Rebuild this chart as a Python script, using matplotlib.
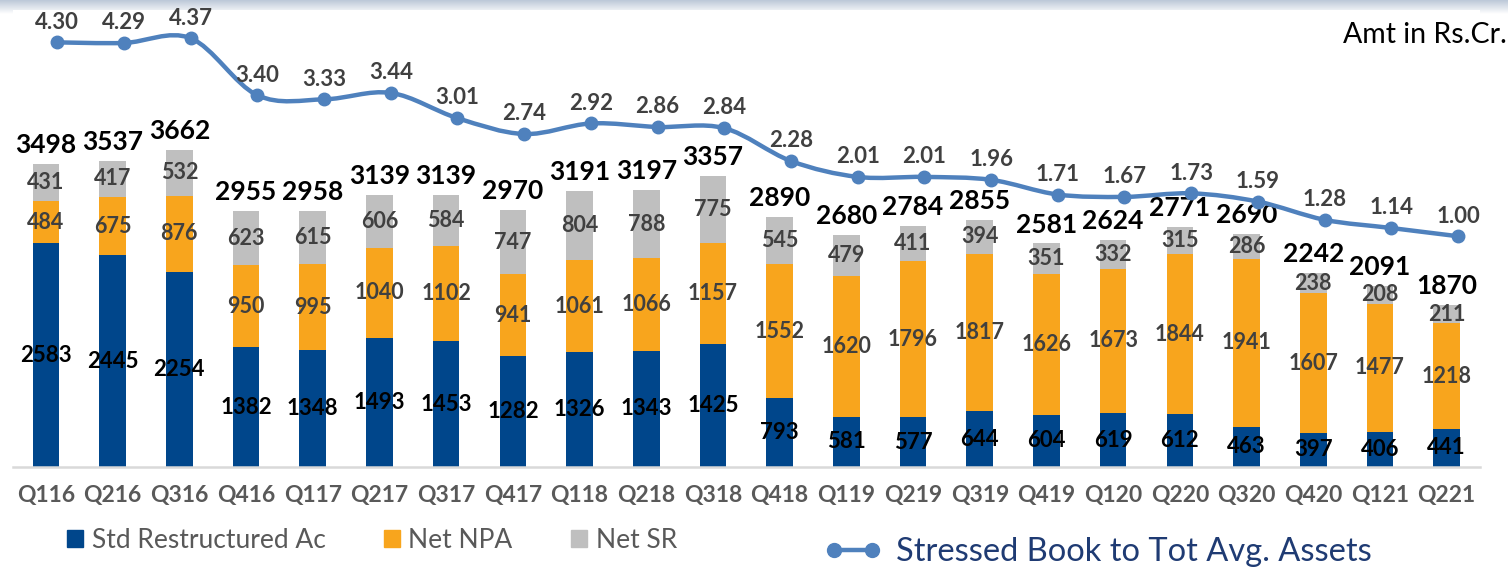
import numpy as np
import matplotlib.pyplot as plt
from matplotlib.path import Path
from matplotlib.patches import PathPatch, Patch
from matplotlib.lines import Line2D

quarters = ['Q116', 'Q216', 'Q316', 'Q416', 'Q117', 'Q217', 'Q317', 'Q417',
            'Q118', 'Q218', 'Q318', 'Q418', 'Q119', 'Q219', 'Q319', 'Q419',
            'Q120', 'Q220', 'Q320', 'Q420', 'Q121', 'Q221']
std_restructured = [2583, 2445, 2254, 1382, 1348, 1493, 1453, 1282, 1326, 1343, 1425,
                    793, 581, 577, 644, 604, 619, 612, 463, 397, 406, 441]
net_npa = [484, 675, 876, 950, 995, 1040, 1102, 941, 1061, 1066, 1157,
           1552, 1620, 1796, 1817, 1626, 1673, 1844, 1941, 1607, 1477, 1218]
net_sr = [431, 417, 532, 623, 615, 606, 584, 747, 804, 788, 775,
          545, 479, 411, 394, 351, 332, 315, 286, 238, 208, 211]
totals = [3498, 3537, 3662, 2955, 2958, 3139, 3139, 2970, 3191, 3197, 3357,
          2890, 2680, 2784, 2855, 2581, 2624, 2771, 2690, 2242, 2091, 1870]
stressed_pct = [4.30, 4.29, 4.37, 3.40, 3.33, 3.44, 3.01, 2.74, 2.92, 2.86, 2.84,
                2.28, 2.01, 2.01, 1.96, 1.71, 1.67, 1.73, 1.59, 1.28, 1.14, 1.00]

c_std = '#00468B'
c_npa = '#F8A51D'
c_sr = '#BFBFBF'
c_line = '#4F81BD'
lbl_grey = '#404040'

plt.rcParams['font.family'] = ['Lato', 'DejaVu Sans']

fig = plt.figure(figsize=(15.08, 5.70), dpi=100)

# light gradient band at the very top
band = fig.add_axes([0, 1 - 14 / 570, 1, 14 / 570])
grad = np.linspace(0, 1, 50).reshape(-1, 1)
band.imshow(grad, aspect='auto', cmap=plt.matplotlib.colors.LinearSegmentedColormap.from_list(
    'b', ['#BCC8D8', '#FFFFFF']), extent=[0, 1, 0, 1])
band.axis('off')

ax = fig.add_axes([12.6 / 1508, 103 / 570, 1467.4 / 1508, 457 / 570])
x = np.arange(len(quarters))
w = 0.40

b1 = ax.bar(x, std_restructured, w, color=c_std)
b2 = ax.bar(x, net_npa, w, bottom=std_restructured, color=c_npa)
bottom_sr = np.array(std_restructured) + np.array(net_npa)
b3 = ax.bar(x, net_sr, w, bottom=bottom_sr, color=c_sr)

ax.bar_label(b1, labels=[str(v) for v in std_restructured], label_type='center',
             fontsize=16, fontweight='bold', color='black')
ax.bar_label(b2, labels=[str(v) for v in net_npa], label_type='center',
             fontsize=15.5, fontweight='bold', color=lbl_grey)
ax.bar_label(b3, labels=[str(v) for v in net_sr], label_type='center',
             fontsize=15.5, fontweight='bold', color=lbl_grey)
ax.bar_label(b3, labels=[str(v) for v in totals], padding=5,
             fontsize=19, fontweight='bold', color='black')

ax.set_xlim(-0.5, len(quarters) - 0.5)
ax.set_ylim(0, 5277)
ax.set_yticks([])
ax.set_xticks(x, quarters)
ax.tick_params(axis='x', length=0, pad=13, labelsize=16.5, labelcolor='#595959')
for t in ax.get_xticklabels():
    t.set_fontweight('bold')
for s in ['top', 'left', 'right']:
    ax.spines[s].set_visible(False)
ax.spines['bottom'].set_color('#D9D9D9')
ax.spines['bottom'].set_linewidth(1.8)

# secondary axis: stressed book ratio
ax2 = ax.twinx()
ax2.set_ylim(-2.928, 4.851)
ax2.set_yticks([])
for s in ax2.spines.values():
    s.set_visible(False)

xl = x + 0.17
pts = np.column_stack([xl, stressed_pct])
n = len(pts)
verts = [pts[0]]
codes = [Path.MOVETO]
for i in range(n - 1):
    p0 = pts[max(i - 1, 0)]
    p1 = pts[i]
    p2 = pts[i + 1]
    p3 = pts[min(i + 2, n - 1)]
    verts += [p1 + (p2 - p0) / 6, p2 - (p3 - p1) / 6, p2]
    codes += [Path.CURVE4] * 3
ax2.add_patch(PathPatch(Path(verts, codes), fill=False, ec=c_line, lw=3.2,
                        capstyle='round', joinstyle='round'))
ax2.plot(xl, stressed_pct, 'o', ms=9, color=c_line)
for xi, v in zip(xl, stressed_pct):
    ax2.annotate(f'{v:.2f}', (xi, v), xytext=(0, 7), textcoords='offset points',
                 ha='center', va='bottom', fontsize=16, fontweight='bold', color=lbl_grey)

fig.text(0.9995, 0.9386, 'Amt in Rs.Cr.', ha='right', va='center', fontsize=20.5, color='black')

fig.legend(handles=[Patch(color=c_std), Patch(color=c_npa), Patch(color=c_sr)],
           labels=['Std Restructured Ac', 'Net NPA', 'Net SR'],
           loc='center left', bbox_to_anchor=(0.0444, 0.0526), ncol=3, frameon=False,
           fontsize=19, handlelength=0.6, handleheight=0.6, handletextpad=0.34,
           columnspacing=2.2, borderpad=0, borderaxespad=0, labelcolor='#595959')
fig.legend(handles=[Line2D([], [], color=c_line, lw=3.2, marker='o', ms=10)],
           labels=['Stressed Book to Tot Avg. Assets'], numpoints=2,
           loc='center left', bbox_to_anchor=(0.5464, 0.031), frameon=False,
           fontsize=23.5, handlelength=1.78, handletextpad=0.43, borderpad=0,
           borderaxespad=0, labelcolor='#1F3B73')

fig.savefig('out.png', dpi=100)
